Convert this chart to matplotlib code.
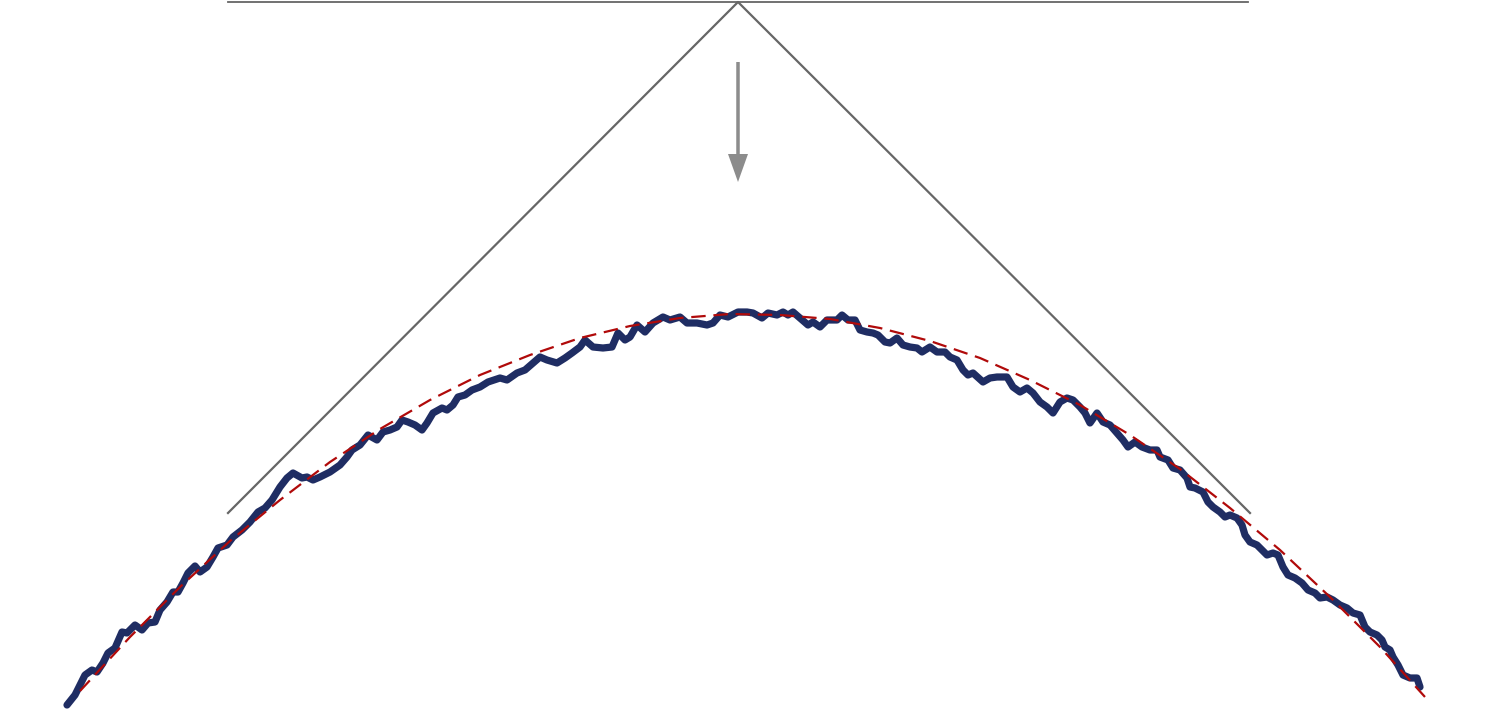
import matplotlib.pyplot as plt
import numpy as np

# traced path (horizontal position, vertical position; vertical axis points down)
path_x = [67, 75, 80, 85, 92, 97, 103, 108, 115, 122, 127, 135, 142, 148, 155, 160,
          167, 173, 178, 183, 188, 195, 200, 207, 213, 218, 227, 233, 242, 250, 258,
          265, 272, 280, 287, 293, 302, 307, 313, 320, 330, 340, 347, 352, 360, 368,
          377, 383, 390, 397, 402, 408, 415, 422, 427, 433, 442, 447, 453, 458, 465,
          472, 480, 488, 500, 507, 517, 525, 533, 540, 547, 557, 565, 572, 580, 585,
          593, 603, 612, 618, 625, 630, 637, 645, 653, 663, 670, 680, 687, 697, 707,
          713, 720, 728, 738, 747, 753, 762, 768, 777, 783, 788, 793, 800, 808, 813,
          820, 827, 837, 842, 848, 855, 860, 867, 873, 878, 885, 890, 897, 903, 910,
          917, 922, 930, 937, 945, 950, 957, 963, 968, 973, 983, 990, 997, 1007, 1013,
          1020, 1027, 1033, 1040, 1047, 1053, 1060, 1067, 1073, 1080, 1085, 1090, 1097,
          1103, 1110, 1117, 1123, 1128, 1135, 1142, 1150, 1157, 1160, 1168, 1173, 1180,
          1187, 1190, 1195, 1203, 1208, 1213, 1220, 1225, 1230, 1237, 1242, 1245, 1250,
          1257, 1262, 1267, 1273, 1278, 1283, 1288, 1295, 1302, 1308, 1315, 1320, 1327,
          1333, 1340, 1347, 1353, 1360, 1365, 1370, 1377, 1382, 1385, 1390, 1393, 1398,
          1403, 1410, 1417, 1420]
path_y = [705, 695, 685, 675, 670, 672, 663, 653, 648, 632, 633, 625, 630, 623, 622, 610,
          602, 592, 592, 583, 573, 566, 572, 567, 557, 548, 545, 537, 530, 522, 512,
          508, 500, 487, 478, 473, 478, 477, 480, 477, 472, 465, 457, 450, 445, 435,
          440, 432, 430, 427, 420, 422, 425, 430, 423, 413, 408, 410, 405, 397, 395,
          390, 387, 382, 378, 380, 373, 370, 363, 357, 360, 363, 358, 353, 347, 340,
          347, 348, 347, 333, 340, 337, 325, 332, 323, 317, 320, 317, 323, 323, 325,
          323, 315, 317, 312, 312, 313, 318, 313, 315, 312, 315, 312, 318, 325, 322,
          327, 320, 320, 315, 320, 320, 330, 332, 333, 335, 342, 343, 338, 345, 347,
          348, 352, 347, 352, 352, 357, 360, 370, 375, 373, 382, 378, 377, 377, 387,
          392, 388, 393, 402, 407, 413, 402, 398, 400, 407, 413, 423, 413,
          422, 425, 433, 440, 447, 442, 447, 450, 450, 457, 460, 468, 470,
          478, 487, 488, 492, 502, 507, 512, 517, 515, 518, 525, 535, 542,
          545, 550, 555, 553, 555, 567, 575, 578, 583, 590, 593, 598, 597,
          600, 605, 608, 613, 615, 627, 632, 635, 640, 647, 650, 657, 665,
          675, 678, 678, 687]

# fitted trend (dashed)
trend_x = [80, 130, 180, 230, 280, 330, 380, 430, 480, 530, 580, 630, 680, 730, 780,
           830, 880, 930, 980, 1030, 1080, 1130, 1180, 1230, 1280, 1330, 1380, 1425]
trend_y = [691, 637, 587, 541, 500, 462, 429, 400, 375, 355, 338, 326, 318, 314, 315,
           319, 328, 341, 358, 380, 405, 435, 469, 508, 550, 597, 647, 697]

# tent outline and top bar
tent_x = [228, 738, 1250]
tent_y = [513, 2, 513]
bar_x = [228, 1248]
bar_y = [2, 2]

# arrow: start and end
arrow_x = 738
arrow_y = [62, 182]

fig = plt.figure(figsize=(14.88, 7.25), dpi=100)
ax = fig.add_axes([0, 0, 1, 1])
ax.set_xlim(0, 1488)
ax.set_ylim(725, 0)
ax.axis("off")

ax.plot(bar_x, bar_y, color="#666666", lw=1.3)
ax.plot(tent_x, tent_y, color="#666666", lw=1.6)

ax.arrow(arrow_x, arrow_y[0], 0, arrow_y[1] - arrow_y[0], width=3.5,
         head_width=20, head_length=28, length_includes_head=True,
         color="#8c8c8c", lw=0)

ax.plot(path_x, path_y, color="#1f2d63", lw=5.2, solid_capstyle="round",
        solid_joinstyle="round", zorder=3)
ax.plot(trend_x, trend_y, color="#b00a0a", lw=1.6, ls=(0, (6.5, 3.5)), zorder=4)

fig.savefig("out.png", dpi=100)
